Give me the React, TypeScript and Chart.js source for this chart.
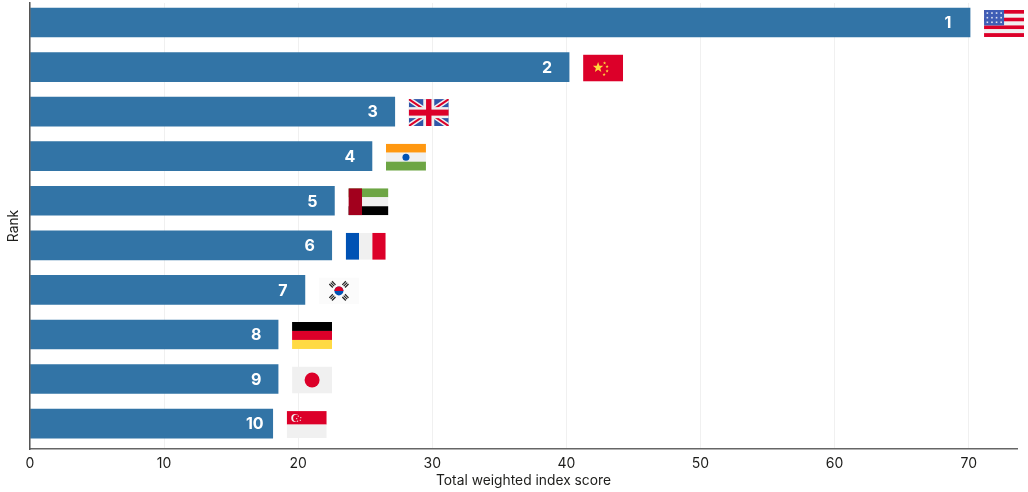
import React, { useEffect, useRef } from "react";
import { Chart, registerables } from "chart.js";

Chart.register(...registerables);

const ranks = [1, 2, 3, 4, 5, 6, 7, 8, 9, 10];
const countries = ["us", "cn", "gb", "in", "ae", "fr", "kr", "de", "jp", "sg"];
const scores = [70.1, 40.2, 27.2, 25.5, 22.7, 22.5, 20.5, 18.5, 18.5, 18.1];
const xTicks = [0, 10, 20, 30, 40, 50, 60, 70];

const FONT = "Inter";
const INK = "#1d1d1b";
const BLUE = "#3274a6";
const RED = "#dc0029";
const OFFWHITE = "#f0f0f0";

type Ctx = CanvasRenderingContext2D;

function star(c: Ctx, cx: number, cy: number, r: number, color: string) {
  c.fillStyle = color;
  c.beginPath();
  for (let i = 0; i < 10; i++) {
    const a = -Math.PI / 2 + (i * Math.PI) / 5;
    const rr = i % 2 === 0 ? r : r * 0.42;
    c.lineTo(cx + rr * Math.cos(a), cy + rr * Math.sin(a));
  }
  c.closePath();
  c.fill();
}

function hStripes(c: Ctx, x: number, y: number, w: number, h: number, colors: string[]) {
  const s = h / colors.length;
  colors.forEach((col, i) => {
    c.fillStyle = col;
    c.fillRect(x, y + i * s, w, s);
  });
}

function vStripes(c: Ctx, x: number, y: number, w: number, h: number, colors: string[]) {
  const s = w / colors.length;
  colors.forEach((col, i) => {
    c.fillStyle = col;
    c.fillRect(x + i * s, y, s, h);
  });
}

function drawFlag(c: Ctx, code: string, x: number, y: number, w: number, h: number) {
  c.save();
  c.beginPath();
  c.rect(x, y, w, h);
  c.clip();
  switch (code) {
    case "us": {
      hStripes(c, x, y, w, h, [RED, OFFWHITE, RED, OFFWHITE, RED, OFFWHITE, RED]);
      c.fillStyle = "#3f5db5";
      c.fillRect(x, y, w / 2, (h * 4) / 7);
      c.fillStyle = "#dfe4f2";
      for (let r = 0; r < 3; r++)
        for (let q = 0; q < 4; q++) c.fillRect(x + 2.5 + q * 4.6, y + 2.3 + r * 4.6, 1.6, 1.6);
      break;
    }
    case "cn": {
      c.fillStyle = RED;
      c.fillRect(x, y, w, h);
      star(c, x + 15, y + 13, 5.5, "#ffd83d");
      [[21.5, 8.5], [24, 12], [24, 16.5], [21, 20]].forEach(([a, b]) => star(c, x + a, y + b, 1.7, "#ffd83d"));
      break;
    }
    case "gb": {
      c.fillStyle = "#2f55a8";
      c.fillRect(x, y, w, h);
      c.strokeStyle = OFFWHITE;
      c.lineWidth = 5;
      c.beginPath();
      c.moveTo(x, y);
      c.lineTo(x + w, y + h);
      c.moveTo(x + w, y);
      c.lineTo(x, y + h);
      c.stroke();
      c.strokeStyle = RED;
      c.lineWidth = 2;
      c.beginPath();
      c.moveTo(x, y);
      c.lineTo(x + w, y + h);
      c.moveTo(x + w, y);
      c.lineTo(x, y + h);
      c.stroke();
      c.fillStyle = OFFWHITE;
      c.fillRect(x + w / 2 - 5.5, y, 11, h);
      c.fillRect(x, y + h / 2 - 5.5, w, 11);
      c.fillStyle = RED;
      c.fillRect(x + w / 2 - 2.7, y, 5.4, h);
      c.fillRect(x, y + h / 2 - 3, w, 6);
      break;
    }
    case "in": {
      hStripes(c, x, y, w, h, ["#ff9811", OFFWHITE, "#6da544"]);
      c.fillStyle = "#0052b4";
      c.beginPath();
      c.arc(x + w / 2, y + h / 2, 3.5, 0, Math.PI * 2);
      c.fill();
      break;
    }
    case "ae": {
      hStripes(c, x, y, w, h, ["#6da544", OFFWHITE, "#000000"]);
      c.fillStyle = "#a2001d";
      c.fillRect(x, y, w * 0.34, h);
      break;
    }
    case "fr":
      vStripes(c, x, y, w, h, ["#0052b4", OFFWHITE, RED]);
      break;
    case "kr": {
      c.fillStyle = "#fbfbfb";
      c.fillRect(x, y, w, h);
      const cx = x + w / 2;
      const cy = y + h / 2;
      c.fillStyle = "#0052b4";
      c.beginPath();
      c.arc(cx, cy, 4.5, 0, Math.PI * 2);
      c.fill();
      c.fillStyle = "#d80027";
      c.beginPath();
      c.arc(cx, cy, 4.5, Math.PI, 0);
      c.fill();
      c.fillStyle = "#222";
      [[-6.5, -6.5, 1], [6.5, 6.5, 1], [6.5, -6.5, -1], [-6.5, 6.5, -1]].forEach(([dx, dy, s]) => {
        c.save();
        c.translate(cx + dx, cy + dy);
        c.rotate((s * Math.PI) / 4);
        c.fillRect(-2.5, -2.5, 5, 1.2);
        c.fillRect(-2.5, -0.6, 5, 1.2);
        c.fillRect(-2.5, 1.3, 5, 1.2);
        c.restore();
      });
      break;
    }
    case "de":
      hStripes(c, x, y, w, h, ["#000000", RED, "#ffda44"]);
      break;
    case "jp": {
      c.fillStyle = OFFWHITE;
      c.fillRect(x, y, w, h);
      c.fillStyle = RED;
      c.beginPath();
      c.arc(x + w / 2, y + h / 2, 7.5, 0, Math.PI * 2);
      c.fill();
      break;
    }
    case "sg": {
      hStripes(c, x, y, w, h, [RED, OFFWHITE]);
      c.fillStyle = OFFWHITE;
      c.beginPath();
      c.arc(x + 8.5, y + 7, 4, 0, Math.PI * 2);
      c.fill();
      c.fillStyle = RED;
      c.beginPath();
      c.arc(x + 10, y + 7, 3.6, 0, Math.PI * 2);
      c.fill();
      [[11, 4.5], [13.5, 6], [13, 8.7], [10.3, 9.5], [9.4, 7]].forEach(([a, b]) => {
        c.fillStyle = OFFWHITE;
        c.fillRect(x + a, y + b, 1.1, 1.1);
      });
      break;
    }
  }
  c.restore();
}

const barExtras = {
  id: "barExtras",
  afterDatasetsDraw(chart: any) {
    const c: Ctx = chart.ctx;
    const xs = chart.scales.x;
    const ys = chart.scales.y;
    scores.forEach((v, i) => {
      const px = xs.getPixelForValue(v);
      const py = ys.getPixelForValue(ranks[i]);
      c.save();
      c.fillStyle = "#ffffff";
      c.font = `700 16px ${FONT}`;
      c.textAlign = "center";
      c.textBaseline = "middle";
      c.fillText(String(ranks[i]), px - (ranks[i] >= 10 ? 18 : 22), py + 1);
      c.restore();
      drawFlag(c, countries[i], px + 14, py - 12.5, 40, 27);
    });
  },
};

export default function App() {
  const ref = useRef<HTMLCanvasElement>(null);
  useEffect(() => {
    document.body.style.margin = "0";
    const chart = new Chart(ref.current as HTMLCanvasElement, {
      type: "bar",
      data: {
        datasets: [
          {
            data: ranks.map((r, i) => ({ x: scores[i], y: r })),
            backgroundColor: BLUE,
            borderWidth: 0,
            barThickness: 29,
          },
        ],
      },
      options: {
        indexAxis: "y",
        responsive: false,
        animation: false,
        layout: { padding: { top: 3, right: 11, left: 0, bottom: 0 } },
        plugins: { legend: { display: false }, tooltip: { enabled: false } },
        scales: {
          x: {
            type: "linear",
            min: 0,
            max: 73.6,
            afterBuildTicks: (s: any) => {
              s.ticks = xTicks.map((value) => ({ value }));
            },
            grid: { color: "#f0f0f0", lineWidth: 1, drawTicks: false },
            border: { color: "#666666", width: 1.5, z: 1 },
            ticks: { color: INK, font: { family: FONT, size: 14 }, maxRotation: 0, padding: 6 },
            title: {
              display: true,
              text: "Total weighted index score",
              color: INK,
              font: { family: FONT, size: 13.8 },
              padding: { top: 0, bottom: 3 },
            },
            afterFit: (s: any) => {
              s.height = 43;
            },
          },
          y: {
            type: "linear",
            reverse: true,
            offset: false,
            min: 0.563,
            max: 10.57,
            grid: { display: false },
            border: { color: "#555555", width: 1.5, z: 1 },
            ticks: { display: false },
            title: {
              display: true,
              text: "Rank",
              color: INK,
              font: { family: FONT, size: 13.8 },
              padding: { top: 6, bottom: 0 },
            },
            afterFit: (s: any) => {
              s.width = 30;
            },
          },
        },
      },
      plugins: [barExtras],
    } as any);
    return () => chart.destroy();
  }, []);
  return <canvas ref={ref} width={1028} height={492} style={{ display: "block" }} />;
}
